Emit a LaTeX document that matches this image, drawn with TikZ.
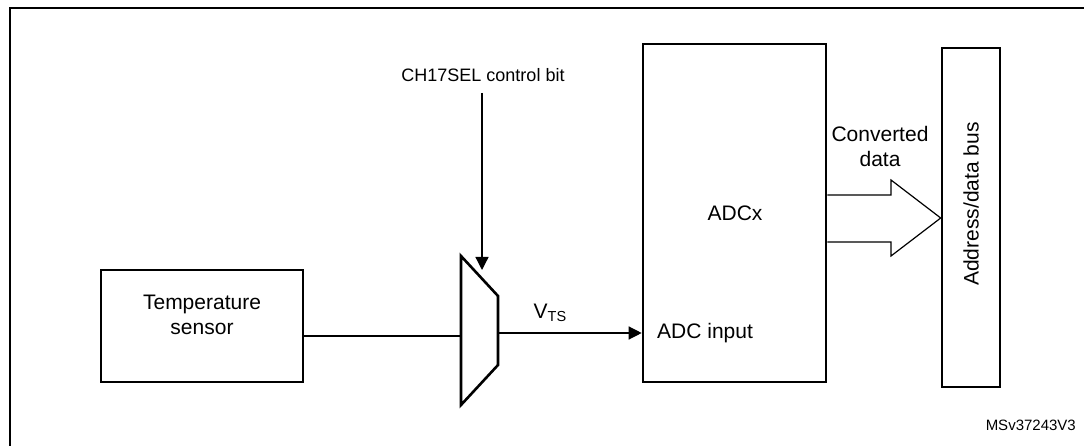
\documentclass[tikz,border=0pt]{standalone}
\usepackage{fontspec}
\setmainfont{Liberation Sans}
\usetikzlibrary{arrows.meta}
\begin{document}
\begin{tikzpicture}[x=1pt,y=-1pt,
  blk/.style={draw, line width=2.6pt, inner sep=0pt},
  wire/.style={line width=1.3pt},
  lbl/.style={font=\fontsize{21}{25}\selectfont, inner sep=0pt, align=center},
  arr/.style={wire, -{Triangle[length=13pt,width=13pt]}}]
\useasboundingbox (0,0) rectangle (1084,446);
% outer frame
\draw[line width=2.2pt] (10,460) -- (10,8) -- (1100,8);
% blocks
\node[blk, minimum width=202pt, minimum height=112pt] (ts) at (202,326) {};
\node[lbl] at (202,315) {Temperature\\sensor};
\node[blk, minimum width=183pt, minimum height=338pt] (adc) at (734.5,213) {};
\node[blk, minimum width=58pt, minimum height=339pt] (bus) at (971,217.5) {};
\node[lbl, rotate=90] (bustxt) at (971,204) {Address/data bus};
\node[lbl] (adcx) at (735,213) {ADCx};
\node[lbl, anchor=west] (adcin) at (657,333) {ADC input};
\node[lbl] (conv) at (880,146) {Converted\\data};
% multiplexer
\coordinate (m1) at (461,256);
\coordinate (m2) at (498,296);
\coordinate (m3) at (498,365);
\coordinate (m4) at (461,405);
\draw[line width=2.6pt, line join=miter] (m1) -- (m2) -- (m3) -- (m4) -- cycle;
\coordinate (muxin) at (461,336);
\coordinate (muxout) at (498,333);
\coordinate (ctl) at (482,270);
% control bit
\node[lbl, font=\fontsize{18}{21}\selectfont] (ch) at (483,75) {CH17SEL control bit};
\draw[arr] (482,93) -- (ctl);
% wires
\draw[wire] (ts.east |- muxin) -- (muxin);
\draw[arr] (muxout) -- (adc.west |- muxout);
\node[lbl] (vts) at (550,313) {V\raisebox{-0.3ex}{\fontsize{14.5}{16}\selectfont TS}};
% hollow arrow
\draw[line width=1.2pt, line join=miter] (adc.east |- 0,195) -- (891,195) -- (891,180) -- (bus.west |- 0,218) -- (891,256) -- (891,242) -- (adc.east |- 0,242);
% id
\node[lbl, anchor=east, font=\fontsize{15}{18}\selectfont] (id) at (1076,425) {MSv37243V3};
\end{tikzpicture}
\end{document}
